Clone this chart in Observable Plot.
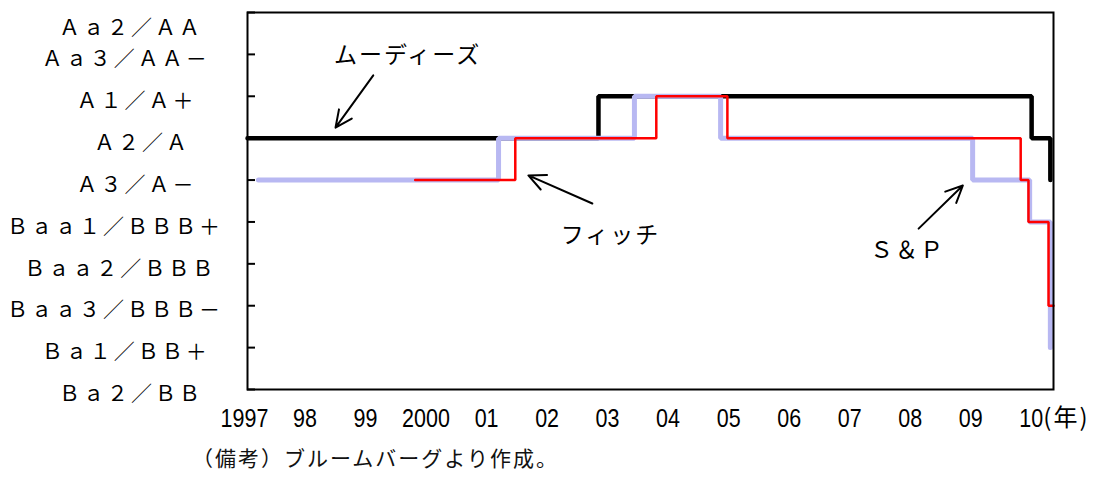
<!DOCTYPE html>
<html>
<head>
<meta charset="utf-8">
<script src="https://cdn.jsdelivr.net/npm/d3@7"></script>
<script src="https://cdn.jsdelivr.net/npm/@observablehq/plot@0.6"></script>
<style>
  body { margin: 0; background: #fff; position: relative; width: 1095px; height: 481px; overflow: hidden; }
  g[aria-label="y-axis tick label"] text { letter-spacing: 3px; }
  g[aria-label="text"] text { letter-spacing: 2px; }
  #note { position: absolute; left: 192px; top: 446px; font-family: "Noto Sans CJK JP", sans-serif; font-size: 21px; line-height: 22px; letter-spacing: 2px; color: #111; white-space: nowrap; }
</style>
</head>
<body>
<div id="chart"></div>
<div id="note">（備考）ブルームバーグより作成。</div>
<script>
// Rating ladders (bottom to top) and combined tick labels
const moodysScale = ["Ba2", "Ba1", "Baa3", "Baa2", "Baa1", "A3", "A2", "A1", "Aa3", "Aa2"];
const spScale     = ["BB", "BB+", "BBB-", "BBB", "BBB+", "A-", "A", "A+", "AA-", "AA"];
const ratingLabels = ["Ｂａ２／ＢＢ", "Ｂａ１／ＢＢ＋", "Ｂａａ３／ＢＢＢ－", "Ｂａａ２／ＢＢＢ", "Ｂａａ１／ＢＢＢ＋",
                      "Ａ３／Ａ－", "Ａ２／Ａ", "Ａ１／Ａ＋", "Ａａ３／ＡＡ－", "Ａａ２／ＡＡ"];
const yearLabels = ["1997", "98", "99", "2000", "01", "02", "03", "04", "05", "06", "07", "08", "09", "10"];
const yearSuffix = "(年)";

// Moody's
const moodysDates   = ["1997-01-01", "2002-10-20", "2009-12-16", "2010-04-08"];
const moodysRatings = ["A2", "A1", "A2", "A3"];
// S&P
const spDates   = ["1997-03-08", "2001-02-24", "2003-05-25", "2004-10-26", "2008-12-25", "2009-12-04", "2010-04-08"];
const spRatings = ["A-", "A", "A+", "A", "A-", "BBB+", "BB+"];
// Fitch
const fitchDates   = ["1999-10-10", "2001-06-05", "2003-10-04", "2004-12-06", "2009-10-11", "2009-11-27", "2010-03-28", "2010-04-27"];
const fitchRatings = ["A-", "A", "A+", "A", "A-", "BBB+", "BBB-", "BBB-"];

// Annotations (label, text position, arrow from/to) in data coordinates
const annotations = [
  {label: "ムーディーズ", tx: "1999-08-25", ty: 8.97, ax1: "1999-01-30", ay1: 8.50, ax2: "1998-06-16", ay2: 7.25},
  {label: "フィッチ",     tx: "2003-01-01", ty: 4.68, ax1: "2002-09-13", ay1: 5.44, ax2: "2001-08-23", ay2: 6.11},
  {label: "Ｓ＆Ｐ",       tx: "2007-11-28", ty: 4.32, ax1: "2008-02-03", ay1: 4.84, ax2: "2008-10-27", ay2: 5.87}
];

const toSeries = (dates, ratings, scale) =>
  dates.map((d, i) => ({date: new Date(d), level: scale.indexOf(ratings[i]) + 1}));
const moodys = toSeries(moodysDates, moodysRatings, moodysScale);
const sp = toSeries(spDates, spRatings, spScale);
const fitch = toSeries(fitchDates, fitchRatings, spScale);
const levels = d3.range(1, ratingLabels.length + 1);
const yearTicks = yearLabels.map((_, i) => new Date(Date.UTC(1997 + i, 0, 1)));
const ann = annotations.map(a => ({...a, tx: new Date(a.tx), ax1: new Date(a.ax1), ax2: new Date(a.ax2)}));

const chart = Plot.plot({
  width: 1095,
  height: 440,
  marginLeft: 247,
  marginRight: 42,
  marginTop: 12,
  marginBottom: 51,
  x: {type: "utc", domain: [new Date("1997-01-01"), new Date("2010-04-27")], label: null},
  y: {domain: [1, 10], label: null},
  style: {fontFamily: "'Noto Sans CJK JP', sans-serif", fontSize: "20px", color: "#000", background: "#fff", overflow: "visible"},
  marks: [
    Plot.axisY({ticks: levels, tickSize: 8, dx: 8, text: null, strokeWidth: 2, label: null}),
    Plot.axisY({ticks: levels, tickSize: 0, tickPadding: 117, textAnchor: "middle", dy: 5, fontSize: 21,
                tickFormat: i => ratingLabels[i - 1], label: null}),
    Plot.axisX({ticks: yearTicks, tickSize: 0, tickPadding: 20, dx: -3, fontSize: 25,
                fontFamily: "'Liberation Sans', Arial, sans-serif",
                tickFormat: (d, i) => yearLabels[i], label: null}),
    Plot.text([yearSuffix], {x: () => yearTicks[yearTicks.length - 1], frameAnchor: "bottom", dy: 29, dx: 9,
                text: d => d, textAnchor: "start", lineAnchor: "middle", fontSize: 24}),
    Plot.line(moodys, {x: "date", y: "level", curve: "step-after", stroke: "black", strokeWidth: 4.5, strokeLinejoin: "miter"}),
    Plot.line(sp, {x: "date", y: "level", curve: "step-after", stroke: "#b8b8f2", strokeWidth: 5, strokeLinejoin: "miter"}),
    Plot.line(fitch, {x: "date", y: "level", curve: "step-after", stroke: "#ff0000", strokeWidth: 2.5, strokeLinejoin: "miter"}),
    Plot.arrow(ann, {x1: "ax1", y1: "ay1", x2: "ax2", y2: "ay2", stroke: "black", strokeWidth: 2, headLength: 14, headAngle: 50}),
    Plot.text(ann, {x: "tx", y: "ty", text: "label", fontSize: 23, fill: "black"}),
    Plot.frame({stroke: "black", strokeWidth: 2})
  ]
});
document.getElementById("chart").appendChild(chart);

// Narrow (condensed) year digits, as in the reference
d3.select(chart).selectAll('g[aria-label="x-axis tick label"] text').each(function () {
  const t = this.getAttribute("transform") || "";
  this.setAttribute("transform", t + " scale(0.86,1)");
});
// Rating labels: the reference centres drift with label length
d3.select(chart).selectAll('g[aria-label="y-axis tick label"] text').each(function () {
  const n = this.textContent.length;
  this.setAttribute("dx", 33 - 5.4 * n);
});
// Top label sits a little lower in the reference
d3.select(chart).selectAll('g[aria-label="y-axis tick label"] text').filter(function () {
  return this.textContent === ratingLabels[ratingLabels.length - 1];
}).attr("dy", "0.5em");
</script>
</body>
</html>
